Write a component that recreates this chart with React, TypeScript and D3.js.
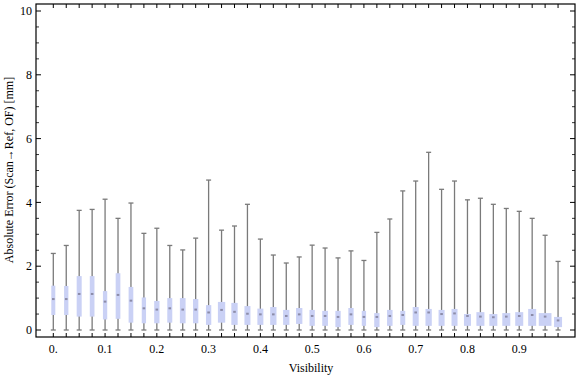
import React from "react";
import * as d3 from "d3";

const visibility = [
  0, 0.025, 0.05, 0.075, 0.1, 0.125, 0.15, 0.175, 0.2, 0.225,
  0.25, 0.275, 0.3, 0.325, 0.35, 0.375, 0.4, 0.425, 0.45, 0.475,
  0.5, 0.525, 0.55, 0.575, 0.6, 0.625, 0.65, 0.675, 0.7, 0.725,
  0.75, 0.775, 0.8, 0.825, 0.85, 0.875, 0.9, 0.925, 0.95, 0.975,
];
const maxVals = [
  2.4, 2.65, 3.75, 3.78, 4.1, 3.5, 3.98, 3.03, 3.19, 2.65,
  2.51, 2.88, 4.7, 3.13, 3.26, 3.94, 2.85, 2.35, 2.1, 2.29,
  2.66, 2.57, 2.26, 2.48, 2.18, 3.06, 3.48, 4.36, 4.67, 5.57,
  4.41, 4.67, 4.08, 4.13, 3.94, 3.81, 3.72, 3.5, 2.97, 2.15,
];
const q3Vals = [
  1.39, 1.38, 1.69, 1.69, 1.22, 1.78, 1.35, 1.02, 0.91, 1.0,
  1.0, 0.97, 0.78, 0.88, 0.85, 0.75, 0.67, 0.72, 0.63, 0.69,
  0.63, 0.6, 0.6, 0.69, 0.6, 0.53, 0.63, 0.6, 0.72, 0.66,
  0.63, 0.66, 0.5, 0.56, 0.5, 0.53, 0.56, 0.66, 0.53, 0.41,
];
const medianVals = [
  0.97, 0.97, 1.13, 1.13, 0.89, 1.1, 0.92, 0.68, 0.64, 0.68,
  0.64, 0.64, 0.55, 0.63, 0.57, 0.51, 0.49, 0.49, 0.44, 0.49,
  0.44, 0.44, 0.41, 0.49, 0.41, 0.41, 0.44, 0.47, 0.55, 0.55,
  0.5, 0.52, 0.44, 0.42, 0.4, 0.42, 0.44, 0.47, 0.42, 0.3,
];
const q1Vals = [
  0.47, 0.47, 0.42, 0.42, 0.33, 0.35, 0.23, 0.21, 0.21, 0.23,
  0.21, 0.21, 0.16, 0.23, 0.16, 0.16, 0.16, 0.16, 0.16, 0.19,
  0.13, 0.13, 0.09, 0.16, 0.13, 0.09, 0.13, 0.16, 0.13, 0.13,
  0.13, 0.13, 0.13, 0.13, 0.13, 0.13, 0.13, 0.13, 0.13, 0.09,
];
const minVals = visibility.map(() => 0);
// relative box weights (drawn widths follow these)
const boxWeight = [
  4, 4.3, 5, 4.7, 4.3, 4.7, 4.7, 4.3, 5.3, 5,
  5.7, 5.3, 5.3, 7.3, 6.3, 6, 6, 6.3, 6.3, 6.3,
  5.3, 5.7, 5.3, 5.3, 4.3, 5.3, 5.5, 5, 6, 6.3,
  6, 6, 7, 8, 8, 8, 8, 8, 12.7, 8,
];
const xTickLabels = ["0.", "0.1", "0.2", "0.3", "0.4", "0.5", "0.6", "0.7", "0.8", "0.9"];
const xTickValues = [0, 0.1, 0.2, 0.3, 0.4, 0.5, 0.6, 0.7, 0.8, 0.9];
const yTickValues = [0, 2, 4, 6, 8, 10];

export default function App() {
  const W = 576, H = 377;
  const frame = { left: 36, right: 575, top: 4, bottom: 337 };
  const x = d3.scaleLinear().domain([0, 1]).range([53.3, 571]);
  const y = d3.scaleLinear().domain([0, 10]).range([330, 11]);
  const wScale = d3.scaleLinear().domain([0, 1]).range([0, 1]);
  const font = "'Liberation Serif', 'Times New Roman', serif";
  const whisker = "#7a7a7a";
  const boxFill = "#cad1f5";

  const minorY = d3.range(0, 10.01, 0.5).filter((v) => Math.abs(v % 2) > 1e-6);

  return (
    <svg width={W} height={H} style={{ position: "absolute", left: 0, top: 0 }} fontFamily={font}>
      <rect x={0} y={0} width={W} height={H} fill="white" />
      {/* boxes */}
      {visibility.map((v, i) => {
        const cx = x(v);
        const bw = wScale(boxWeight[i]);
        return (
          <g key={i}>
            <line x1={cx} x2={cx} y1={y(minVals[i])} y2={y(maxVals[i])} stroke={whisker} strokeWidth={1.3} />
            <line x1={cx - 2.5} x2={cx + 2.5} y1={y(maxVals[i])} y2={y(maxVals[i])} stroke={whisker} strokeWidth={1.3} />
            <line x1={cx - 2.5} x2={cx + 2.5} y1={y(minVals[i])} y2={y(minVals[i])} stroke={whisker} strokeWidth={1.3} />
            <rect x={cx - bw / 2} y={y(q3Vals[i])} width={bw} height={y(q1Vals[i]) - y(q3Vals[i])} fill={boxFill} />
            <rect x={cx - 1.3} y={y(medianVals[i]) - 1} width={2.6} height={2} fill="#8c8ca8" />
          </g>
        );
      })}
      {/* frame */}
      <rect x={frame.left} y={frame.top} width={frame.right - frame.left} height={frame.bottom - frame.top} fill="none" stroke="black" strokeWidth={1.2} />
      {/* y ticks */}
      {yTickValues.map((v) => (
        <g key={"y" + v}>
          <line x1={frame.left} x2={frame.left + 5} y1={y(v)} y2={y(v)} stroke="black" strokeWidth={1} />
          <line x1={frame.right} x2={frame.right - 5} y1={y(v)} y2={y(v)} stroke="black" strokeWidth={1} />
          <text x={32} y={y(v)} dy="0.35em" textAnchor="end" fontSize={12}>{v}</text>
        </g>
      ))}
      {minorY.map((v) => (
        <g key={"ym" + v}>
          <line x1={frame.left} x2={frame.left + 3} y1={y(v)} y2={y(v)} stroke="black" strokeWidth={0.8} />
          <line x1={frame.right} x2={frame.right - 3} y1={y(v)} y2={y(v)} stroke="black" strokeWidth={0.8} />
        </g>
      ))}
      {/* x ticks at each category */}
      {visibility.map((v, i) => (
        <g key={"xt" + i}>
          <line x1={x(v)} x2={x(v)} y1={frame.bottom} y2={frame.bottom - 4} stroke="black" strokeWidth={1} />
          <line x1={x(v)} x2={x(v)} y1={frame.top} y2={frame.top + 4} stroke="black" strokeWidth={1} />
        </g>
      ))}
      {xTickValues.map((v, i) => (
        <text key={"xl" + i} x={x(v)} y={353} textAnchor="middle" fontSize={12}>{xTickLabels[i]}</text>
      ))}
      <text x={311} y={372} textAnchor="middle" fontSize={12}>Visibility</text>
      <text transform={`translate(13,170) rotate(-90)`} textAnchor="middle" fontSize={12}>
        Absolute Error (Scan→Ref, OF) [mm]
      </text>
    </svg>
  );
}
